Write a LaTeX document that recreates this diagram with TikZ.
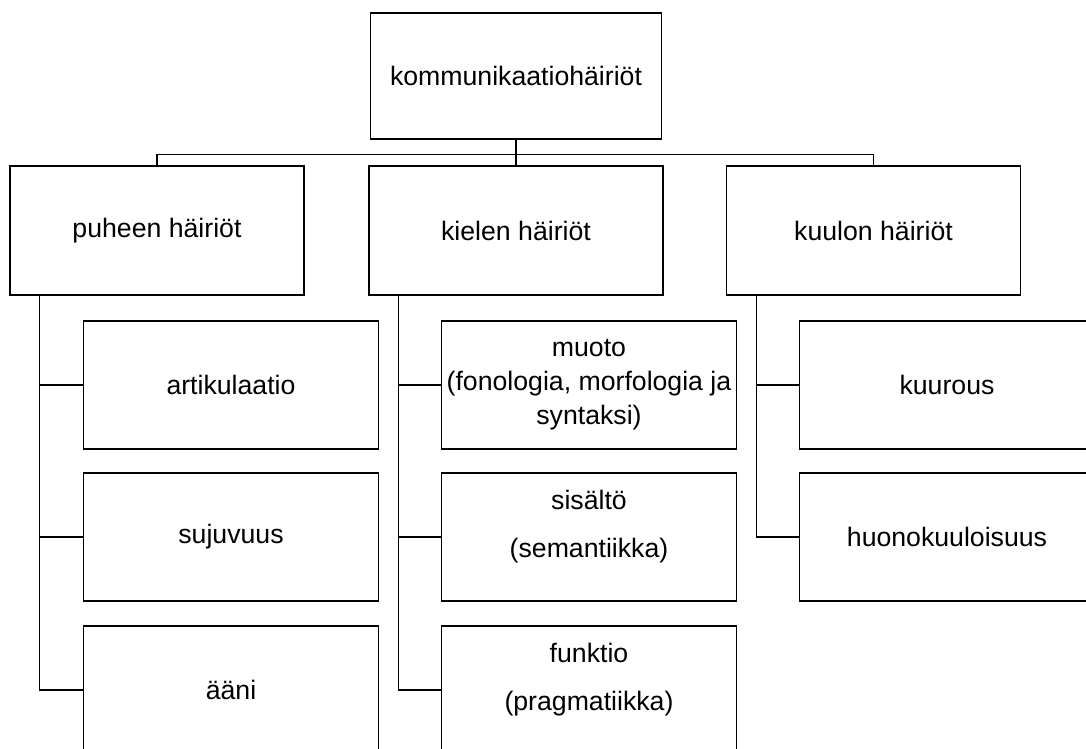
\documentclass[tikz,border=0pt]{standalone}
\usepackage{fontspec}
\setmainfont{Liberation Sans}
\usetikzlibrary{positioning}
\tikzset{
    topbox/.style={rectangle, draw, line width=1pt, minimum width=218.25pt, minimum height=94.5pt, align=center, font=\fontsize{20}{25.5}\selectfont},
    mainbox/.style={rectangle, draw, line width=1pt, minimum width=220.5pt, minimum height=96.75pt, align=center, font=\fontsize{20}{25.5}\selectfont},
    subbox/.style={rectangle, draw, line width=1pt, minimum width=221pt, minimum height=96pt, align=center, font=\fontsize{20}{25.5}\selectfont},
    conn/.style={line width=1pt}
}

\begin{document}
\begin{tikzpicture}[x=0.75pt,y=-0.75pt]
\clip (0,0) rectangle (1086,749);
\node[topbox] (top) at (516, 76) {kommunikaatiohäiriöt};
\node[mainbox] (puh) at (157, 230.5) {puheen häiriöt};
\node[mainbox] (kie) at (516, 230.5) {kielen häiriöt};
\node[mainbox] (kuu) at (873.5, 230.5) {kuulon häiriöt};
\node[subbox] (art) at (231, 385) {artikulaatio};
\node[subbox] (suj) at (231, 537) {sujuvuus};
\node[subbox] (aan) at (231, 690) {ääni};
\node[subbox] (muo) at (589, 385) {muoto\\(fonologia, morfologia ja\\syntaksi)};
\node[subbox] (sis) at (589, 537) {sisältö\\[11pt](semantiikka)\\[-13.5pt]\strut};
\node[subbox] (fun) at (589, 690) {funktio\\[11pt](pragmatiikka)\\[-13.5pt]\strut};
\node[subbox] (kuur) at (947, 385) {kuurous};
\node[subbox] (huon) at (947, 537) {huonokuuloisuus};
\draw[conn] (top) -- (kie);
\draw[conn] (puh.north) -- ++(0,-11) -| (kuu.north);
\draw[conn] ([xshift=22.5pt]puh.south west) |- (art.west);
\draw[conn] ([xshift=22.5pt]puh.south west) |- (suj.west);
\draw[conn] ([xshift=22.5pt]puh.south west) |- (aan.west);
\draw[conn] ([xshift=22.5pt]kie.south west) |- (muo.west);
\draw[conn] ([xshift=22.5pt]kie.south west) |- (sis.west);
\draw[conn] ([xshift=22.5pt]kie.south west) |- (fun.west);
\draw[conn] ([xshift=23pt]kuu.south west) |- (kuur.west);
\draw[conn] ([xshift=23pt]kuu.south west) |- (huon.west);
\end{tikzpicture}
\end{document}
